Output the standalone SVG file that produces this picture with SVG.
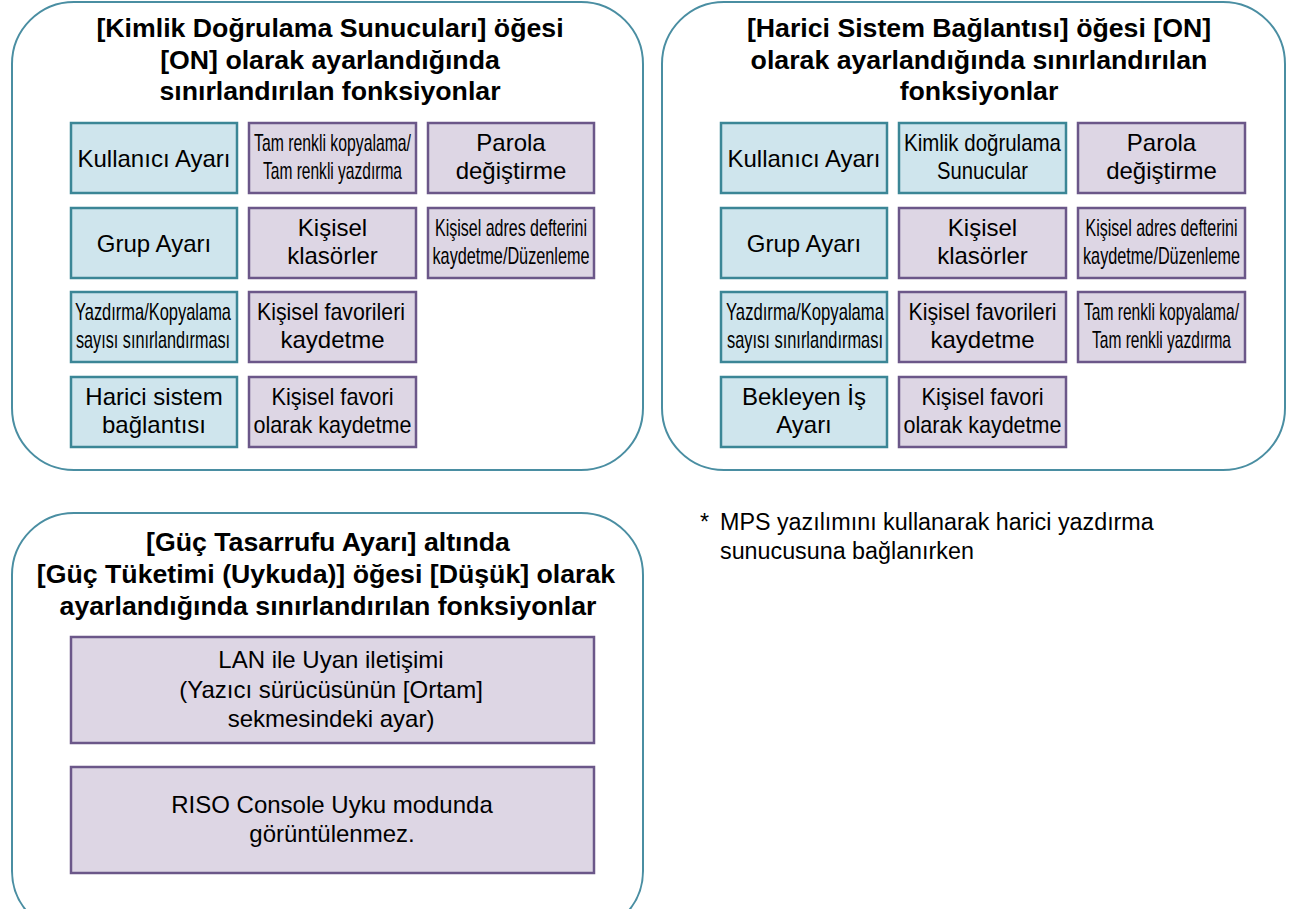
<svg xmlns="http://www.w3.org/2000/svg" width="1296" height="909" viewBox="0 0 1296 909">
<style>
.panel{fill:#ffffff;stroke:#4a8ea2;stroke-width:2}
.blue{fill:#cfe5ed;stroke:#3b8696;stroke-width:2.5}
.purp{fill:#ddd6e4;stroke:#6b5789;stroke-width:2.5}
.title{font-family:"Liberation Sans",Arial,sans-serif;font-weight:bold;font-size:26.7px;fill:#000;text-anchor:middle}
.t{font-family:"Liberation Sans",Arial,sans-serif;font-size:24px;fill:#000;text-anchor:middle}
.note{font-family:"Liberation Sans",Arial,sans-serif;font-size:23.3px;fill:#000}
</style>
<rect width="1296" height="909" fill="#ffffff"/>

<g id="panel1">
<rect class="panel" x="12" y="2" width="631" height="468" rx="62"/>
<text class="title" x="330" y="37">[Kimlik Doğrulama Sunucuları] öğesi</text>
<text class="title" x="330" y="69">[ON] olarak ayarlandığında</text>
<text class="title" x="330" y="100">sınırlandırılan fonksiyonlar</text>
</g>
<g id="p1-kullanici"><rect class="blue" x="71" y="123" width="166" height="70"/><text class="t" x="154" y="167">Kullanıcı Ayarı</text></g>
<g id="p1-tamrenkli"><rect class="purp" x="249" y="123" width="167" height="70"/><text class="t" x="332.5" y="151" textLength="157" lengthAdjust="spacingAndGlyphs">Tam renkli kopyalama/</text><text class="t" x="332.5" y="179" textLength="139" lengthAdjust="spacingAndGlyphs">Tam renkli yazdırma</text></g>
<g id="p1-parola"><rect class="purp" x="428" y="123" width="166" height="70"/><text class="t" x="511" y="151">Parola</text><text class="t" x="511" y="179">değiştirme</text></g>
<g id="p1-grup"><rect class="blue" x="71" y="208" width="166" height="70"/><text class="t" x="154" y="252">Grup Ayarı</text></g>
<g id="p1-klasor"><rect class="purp" x="249" y="208" width="167" height="70"/><text class="t" x="332.5" y="236">Kişisel</text><text class="t" x="332.5" y="264">klasörler</text></g>
<g id="p1-adres"><rect class="purp" x="428" y="208" width="166" height="70"/><text class="t" x="511" y="236" textLength="152" lengthAdjust="spacingAndGlyphs">Kişisel adres defterini</text><text class="t" x="511" y="264" textLength="157" lengthAdjust="spacingAndGlyphs">kaydetme/Düzenleme</text></g>
<g id="p1-yazdirma"><rect class="blue" x="71" y="292" width="166" height="70"/><text class="t" x="153" y="320" textLength="156" lengthAdjust="spacingAndGlyphs">Yazdırma/Kopyalama</text><text class="t" x="153" y="348" textLength="154" lengthAdjust="spacingAndGlyphs">sayısı sınırlandırması</text></g>
<g id="p1-favorileri"><rect class="purp" x="249" y="292" width="167" height="70"/><text class="t" x="331" y="320" textLength="148" lengthAdjust="spacingAndGlyphs">Kişisel favorileri</text><text class="t" x="332.5" y="348">kaydetme</text></g>
<g id="p1-harici"><rect class="blue" x="71" y="377" width="166" height="70"/><text class="t" x="154" y="405">Harici sistem</text><text class="t" x="154" y="433">bağlantısı</text></g>
<g id="p1-favori"><rect class="purp" x="249" y="377" width="167" height="70"/><text class="t" x="332.5" y="405" textLength="122" lengthAdjust="spacingAndGlyphs">Kişisel favori</text><text class="t" x="332.5" y="433" textLength="158" lengthAdjust="spacingAndGlyphs">olarak kaydetme</text></g>

<g id="panel2">
<rect class="panel" x="662" y="2" width="623" height="468" rx="62"/>
<text class="title" x="979" y="37">[Harici Sistem Bağlantısı] öğesi [ON]</text>
<text class="title" x="979" y="69">olarak ayarlandığında sınırlandırılan</text>
<text class="title" x="979" y="100">fonksiyonlar</text>
</g>
<g id="p2-kullanici"><rect class="blue" x="721" y="123" width="166" height="70"/><text class="t" x="804" y="167">Kullanıcı Ayarı</text></g>
<g id="p2-kimlik"><rect class="blue" x="899" y="123" width="167" height="70"/><text class="t" x="982.5" y="151" textLength="157" lengthAdjust="spacingAndGlyphs">Kimlik doğrulama</text><text class="t" x="982.5" y="179" textLength="91" lengthAdjust="spacingAndGlyphs">Sunucular</text></g>
<g id="p2-parola"><rect class="purp" x="1078" y="123" width="167" height="70"/><text class="t" x="1161.5" y="151">Parola</text><text class="t" x="1161.5" y="179">değiştirme</text></g>
<g id="p2-grup"><rect class="blue" x="721" y="208" width="166" height="70"/><text class="t" x="804" y="252">Grup Ayarı</text></g>
<g id="p2-klasor"><rect class="purp" x="899" y="208" width="167" height="70"/><text class="t" x="982.5" y="236">Kişisel</text><text class="t" x="982.5" y="264">klasörler</text></g>
<g id="p2-adres"><rect class="purp" x="1078" y="208" width="167" height="70"/><text class="t" x="1161.5" y="236" textLength="152" lengthAdjust="spacingAndGlyphs">Kişisel adres defterini</text><text class="t" x="1161.5" y="264" textLength="157" lengthAdjust="spacingAndGlyphs">kaydetme/Düzenleme</text></g>
<g id="p2-yazdirma"><rect class="blue" x="721" y="292" width="166" height="70"/><text class="t" x="805" y="320" textLength="158" lengthAdjust="spacingAndGlyphs">Yazdırma/Kopyalama</text><text class="t" x="805" y="348" textLength="156" lengthAdjust="spacingAndGlyphs">sayısı sınırlandırması</text></g>
<g id="p2-favorileri"><rect class="purp" x="899" y="292" width="167" height="70"/><text class="t" x="982.5" y="320" textLength="148" lengthAdjust="spacingAndGlyphs">Kişisel favorileri</text><text class="t" x="982.5" y="348">kaydetme</text></g>
<g id="p2-tamrenkli"><rect class="purp" x="1078" y="292" width="167" height="70"/><text class="t" x="1161.5" y="320" textLength="155" lengthAdjust="spacingAndGlyphs">Tam renkli kopyalama/</text><text class="t" x="1161.5" y="348" textLength="139" lengthAdjust="spacingAndGlyphs">Tam renkli yazdırma</text></g>
<g id="p2-bekleyen"><rect class="blue" x="721" y="377" width="166" height="70"/><text class="t" x="804" y="405">Bekleyen İş</text><text class="t" x="804" y="433">Ayarı</text></g>
<g id="p2-favori"><rect class="purp" x="899" y="377" width="167" height="70"/><text class="t" x="982.5" y="405" textLength="122" lengthAdjust="spacingAndGlyphs">Kişisel favori</text><text class="t" x="982.5" y="433" textLength="158" lengthAdjust="spacingAndGlyphs">olarak kaydetme</text></g>

<g id="panel3">
<rect class="panel" x="12" y="513" width="631" height="420" rx="62"/>
<text class="title" x="328" y="551">[Güç Tasarrufu Ayarı] altında</text>
<text class="title" x="326" y="583">[Güç Tüketimi (Uykuda)] öğesi [Düşük] olarak</text>
<text class="title" x="328" y="615">ayarlandığında sınırlandırılan fonksiyonlar</text>
</g>
<g id="p3-lan"><rect class="purp" x="71" y="637" width="523" height="106"/><text class="t" x="331" y="668">LAN ile Uyan iletişimi</text><text class="t" x="331" y="698">(Yazıcı sürücüsünün [Ortam]</text><text class="t" x="331" y="727">sekmesindeki ayar)</text></g>
<g id="p3-riso"><rect class="purp" x="71" y="767" width="523" height="106"/><text class="t" x="332" y="813">RISO Console Uyku modunda</text><text class="t" x="332" y="842">görüntülenmez.</text></g>

<g id="footnote">
<text class="note" x="700" y="530">*</text>
<text class="note" x="720" y="530">MPS yazılımını kullanarak harici yazdırma</text>
<text class="note" x="720" y="559">sunucusuna bağlanırken</text>
</g>
<g id="connectors"></g>
</svg>
